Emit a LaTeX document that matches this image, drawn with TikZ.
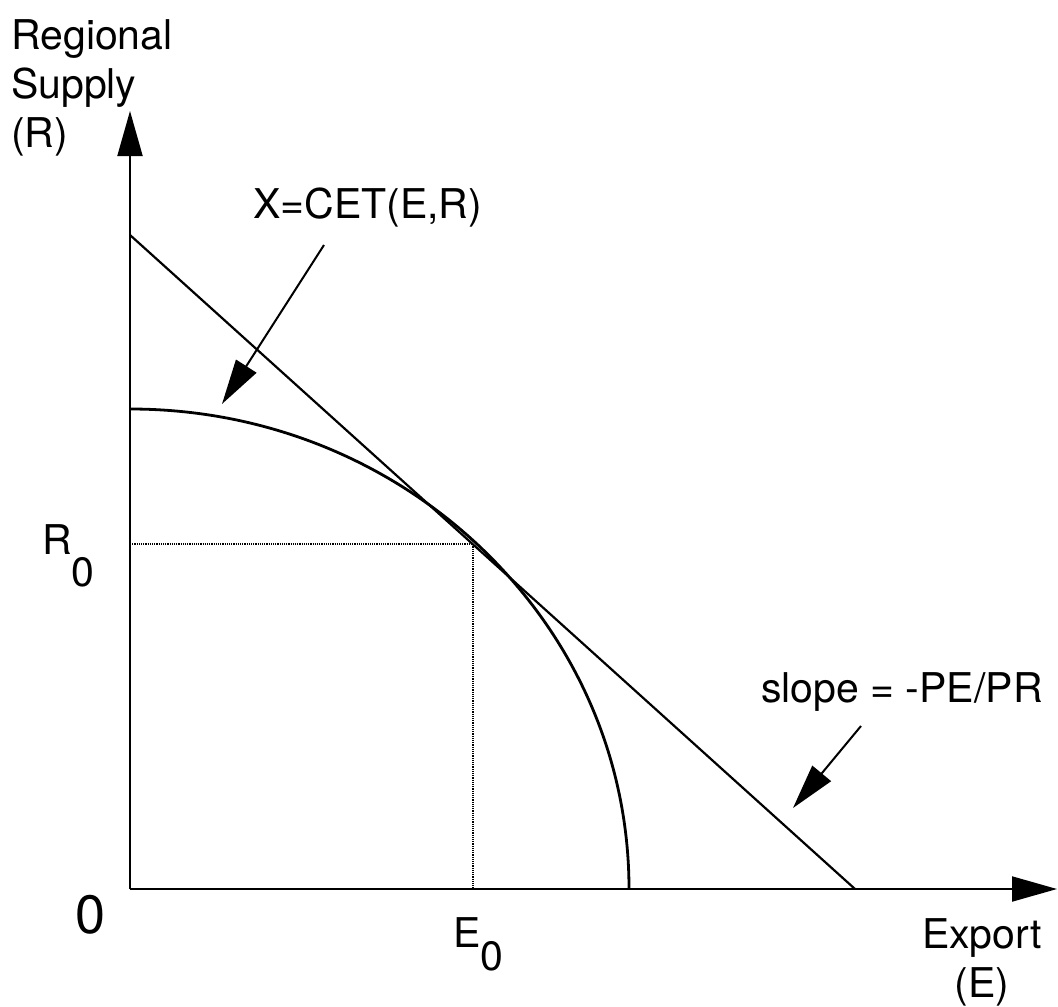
\documentclass[tikz,border=0pt]{standalone}
\usepackage{fontspec}
\setmainfont{TeX Gyre Heros}
\usetikzlibrary{arrows.meta,calc}

\begin{document}
\begin{tikzpicture}[
  x=1pt, y=-1pt,
  axis/.style={line width=2pt, -{Triangle[length=45pt,width=25pt]}},
  curve/.style={line width=2.8pt},
  guide/.style={line width=1.2pt, densely dotted},
  pointer/.style={line width=2pt, -{Triangle[length=45pt,width=24pt]}},
  lbl/.style={inner sep=0pt, font=\fontsize{41}{49}\selectfont, anchor=base west}
]
\useasboundingbox (0,0) rectangle (1058,1007);
\coordinate (origin) at (130,889);
\coordinate (ytop) at (130,111);
\coordinate (xend) at (1057,889);
\coordinate (rmax) at (130,409);
\coordinate (lstart) at (130,235);
\coordinate (lend) at (855,889);
\coordinate (opt) at (473,544);
\coordinate (cetfrom) at (324,245);
\coordinate (cetto) at (222,404);
\coordinate (slopefrom) at (861,726);
\coordinate (slopeto) at (793,808);
% dotted guides to the optimum
\draw[guide] (origin |- opt) -- (opt) -- (opt |- origin);
% CET frontier and price line
\draw[curve] (rmax) arc[start angle=270, end angle=360, x radius=499, y radius=480];
\draw[line width=2.2pt] (lstart) -- (lend);
% axes
\draw[axis] (origin) -- (ytop);
\draw[axis] (origin) -- (xend);
% labels
\node[lbl, align=left] (ylab) at (11,147) {Regional\\Supply\\(R)};
\node[lbl, align=center, anchor=base] (xlab) at (982,997) {Export\\(E)};
\node[lbl] (r0) at (42,554) {R\raisebox{-32pt}{0}};
\node[lbl] (e0) at (453,947) {E\raisebox{-23pt}{0}};
\node[lbl, font=\fontsize{54}{60}\selectfont] (zero) at (75,933) {0};
\node[lbl] (cet) at (253,218) {X=CET(E,R)};
\node[lbl] (slope) at (761,702) {slope = -PE/PR};
\draw[pointer] (cetfrom) -- (cetto);
\draw[pointer] (slopefrom) -- (slopeto);
\end{tikzpicture}
\end{document}
